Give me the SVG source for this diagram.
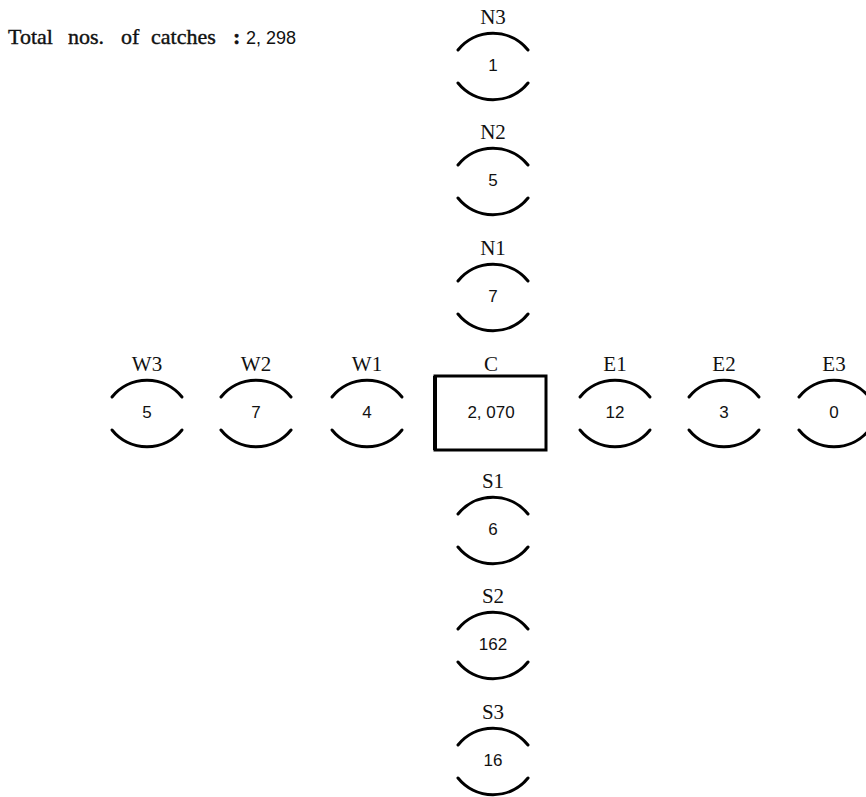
<svg xmlns="http://www.w3.org/2000/svg" xmlns:xlink="http://www.w3.org/1999/xlink" width="866" height="797" viewBox="0 0 866 797">
<style>
.lbl{font-family:"Liberation Serif","Times New Roman",serif;font-size:21px;fill:#111;text-anchor:middle}
.num{font-family:"Liberation Sans",Arial,sans-serif;font-size:17px;fill:#111;text-anchor:middle}
.arc{fill:none;stroke:#000;stroke-width:3;stroke-linecap:round}
.title{font-family:"Liberation Serif","Times New Roman",serif;font-size:22px;fill:#111}
</style>
<defs>
<path id="top" class="arc" d="M -35 33 A 45 45 0 0 1 35 33"/>
<path id="bot" class="arc" d="M -35 66 A 45 45 0 0 0 35 66"/>
</defs>
<rect width="866" height="797" fill="#fff"/>
<g id="title">
<text class="title" y="44" stroke="#111" stroke-width="0.4"><tspan x="8">Total</tspan><tspan x="68">nos.</tspan><tspan x="121">of</tspan><tspan x="151">catches</tspan><tspan x="233" font-weight="bold">:</tspan><tspan x="246" font-family="Liberation Sans, Arial, sans-serif" font-size="18" stroke-width="0">2, 298</tspan></text>
</g>
<g id="connectors"/>
<g id="N3" transform="translate(493,17)"><text class="lbl" y="7">N3</text><use href="#top"/><text class="num" y="54">1</text><use href="#bot"/></g>
<g id="N2" transform="translate(493,132)"><text class="lbl" y="7">N2</text><use href="#top"/><text class="num" y="54">5</text><use href="#bot"/></g>
<g id="N1" transform="translate(493,248)"><text class="lbl" y="7">N1</text><use href="#top"/><text class="num" y="54">7</text><use href="#bot"/></g>
<g id="W3" transform="translate(147,364)"><text class="lbl" y="7">W3</text><use href="#top"/><text class="num" y="54">5</text><use href="#bot"/></g>
<g id="W2" transform="translate(256,364)"><text class="lbl" y="7">W2</text><use href="#top"/><text class="num" y="54">7</text><use href="#bot"/></g>
<g id="W1" transform="translate(367,364)"><text class="lbl" y="7">W1</text><use href="#top"/><text class="num" y="54">4</text><use href="#bot"/></g>
<g id="C" transform="translate(491,364)"><text class="lbl" y="7">C</text><rect x="-56" y="12" width="111" height="74" fill="none" stroke="#000" stroke-width="3"/><line x1="-56" y1="12" x2="-56" y2="86" stroke="#000" stroke-width="4"/><text class="num" y="54">2, 070</text></g>
<g id="E1" transform="translate(615,364)"><text class="lbl" y="7">E1</text><use href="#top"/><text class="num" y="54">12</text><use href="#bot"/></g>
<g id="E2" transform="translate(724,364)"><text class="lbl" y="7">E2</text><use href="#top"/><text class="num" y="54">3</text><use href="#bot"/></g>
<g id="E3" transform="translate(834,364)"><text class="lbl" y="7">E3</text><use href="#top"/><text class="num" y="54">0</text><use href="#bot"/></g>
<g id="S1" transform="translate(493,481)"><text class="lbl" y="7">S1</text><use href="#top"/><text class="num" y="54">6</text><use href="#bot"/></g>
<g id="S2" transform="translate(493,596)"><text class="lbl" y="7">S2</text><use href="#top"/><text class="num" y="54">162</text><use href="#bot"/></g>
<g id="S3" transform="translate(493,712)"><text class="lbl" y="7">S3</text><use href="#top"/><text class="num" y="54">16</text><use href="#bot"/></g>
</svg>
